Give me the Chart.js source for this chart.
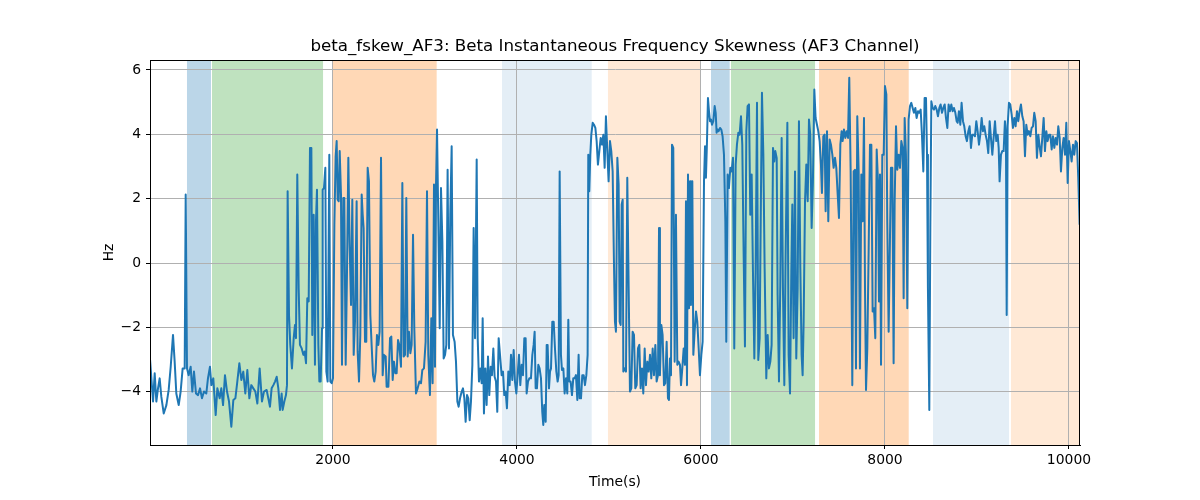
<!DOCTYPE html>
<html>
<head>
<meta charset="utf-8">
<title>beta_fskew_AF3</title>
<script src="https://cdn.jsdelivr.net/npm/chart.js@4.4.1/dist/chart.umd.min.js"></script>
<style>
  body { margin: 0; background: #fff; }
  #wrap { width: 1200px; height: 500px; }
</style>
</head>
<body>
<div id="wrap"><canvas id="chart" width="1200" height="500"></canvas></div>
<script>
/* series: time (s) and beta skewness (Hz) */
let times = [
  12, 44, 62, 80, 98, 116, 134, 160, 189, 214,
  236, 261, 279, 297, 323, 344, 366, 388, 399, 413,
  431, 453, 471, 489, 511, 533, 555, 576, 598, 623,
  641, 663, 678, 699, 725, 743, 768, 786, 805, 826,
  848, 870, 895, 917, 939, 960, 982, 1004, 1025, 1047,
  1069, 1091, 1112, 1134, 1156, 1178, 1203, 1228, 1250,
  1279, 1297, 1315, 1333, 1352, 1370, 1388, 1406, 1424, 1442,
  1453, 1471, 1489, 1500, 1507, 1522, 1536, 1554, 1573, 1587,
  1598, 1612, 1627, 1641, 1660, 1678, 1692, 1707, 1721, 1736,
  1750, 1765, 1775, 1790, 1804, 1815, 1826, 1841, 1852, 1866,
  1881, 1888, 1902, 1917, 1928, 1942, 1960, 1971, 1986, 2000,
  2015, 2029, 2040, 2051, 2062, 2073, 2087, 2098, 2112, 2123,
  2138, 2152, 2167, 2181, 2196, 2210, 2225, 2239, 2257, 2268,
  2283, 2297, 2312, 2323, 2333, 2348, 2362, 2377, 2391, 2406,
  2420, 2435, 2449, 2464, 2478, 2493, 2507, 2522,
  2540, 2554, 2573, 2583, 2602, 2620, 2634, 2649, 2663, 2678,
  2692, 2707, 2721, 2739, 2754, 2768, 2783, 2797, 2812, 2826,
  2841, 2855, 2870, 2884, 2902, 2920, 2939, 2957, 2971, 2989,
  3007, 3022, 3036, 3054, 3069, 3083, 3098, 3109, 3120, 3131,
  3145, 3160, 3174, 3189, 3203, 3218, 3232, 3246, 3261, 3275,
  3290, 3304, 3322, 3337, 3352, 3366, 3381, 3399, 3413, 3428,
  3442, 3457, 3471, 3486, 3500, 3515, 3529, 3544, 3562, 3573,
  3587, 3602, 3616, 3627, 3641, 3656, 3670, 3685, 3699, 3714,
  3728, 3743, 3757, 3772, 3786, 3801,
  3833, 3848, 3862, 3877, 3891, 3906, 3920, 3935, 3949, 3964,
  3978, 3993, 4007, 4022, 4036, 4051, 4065, 4080, 4094, 4105,
  4120, 4134, 4152, 4167, 4181, 4192, 4203, 4217, 4232, 4246,
  4261, 4275, 4286, 4297, 4312, 4323, 4333, 4348, 4359, 4370,
  4384, 4399, 4413, 4428, 4442, 4453, 4464, 4478, 4489, 4504,
  4518, 4533, 4547, 4558, 4569, 4583, 4598, 4612, 4627, 4641,
  4656, 4670, 4681, 4696, 4710, 4725, 4739, 4754, 4768, 4775,
  4786, 4797, 4808, 4823, 4837, 4852, 4866, 4880, 4895, 4910,
  4924, 4939, 4953, 4967, 4982, 4996, 5011, 5025, 5040,
  5054, 5065, 5076, 5091, 5105, 5116, 5127, 5138, 5149, 5156,
  5170, 5185, 5199, 5214, 5228, 5243, 5257, 5272, 5286, 5301,
  5315, 5330, 5344, 5359, 5373, 5388, 5402, 5417, 5431, 5446,
  5460, 5475, 5489, 5504, 5518, 5533, 5544, 5554, 5569, 5583,
  5598, 5612, 5627, 5641, 5652, 5663, 5674, 5685, 5699, 5714,
  5728, 5743, 5757, 5772, 5783, 5797, 5812, 5826, 5837, 5848,
  5859, 5870, 5881, 5891, 5906, 5917, 5931, 5946, 5960, 5975,
  5989, 6004, 6018, 6033, 6044, 6054, 6065, 6076, 6087, 6098,
  6109, 6120, 6134, 6149, 6160, 6170, 6181, 6192, 6207, 6221,
  6235, 6250, 6265, 6275,
  6290, 6304, 6319, 6333, 6348, 6362, 6377, 6391, 6406, 6420,
  6435, 6449, 6464, 6478, 6493, 6507, 6522, 6536, 6551, 6565,
  6580, 6594, 6609, 6623, 6638, 6652, 6663, 6678, 6692, 6710,
  6725, 6739, 6754, 6768, 6783, 6797, 6808, 6823, 6833, 6848,
  6862, 6877, 6891, 6906, 6920, 6939, 6953, 6968, 6982, 6993,
  7007, 7022, 7036, 7051, 7065, 7080, 7094, 7105, 7116, 7131,
  7145, 7160, 7174, 7188, 7203, 7217, 7232, 7246, 7261, 7275,
  7290, 7304, 7315, 7330, 7344, 7355, 7370, 7384, 7399, 7413,
  7428, 7442, 7457, 7471, 7486, 7500, 7515, 7529,
  7540, 7554, 7569, 7583, 7598, 7612, 7627, 7645, 7660, 7674,
  7685, 7699, 7714, 7728, 7743, 7757, 7772, 7783, 7794, 7808,
  7823, 7837, 7852, 7866, 7881, 7895, 7910, 7924, 7935, 7946,
  7957, 7971, 7986, 8000, 8015, 8025, 8040, 8054, 8065, 8080,
  8094, 8105, 8120, 8134, 8149, 8163, 8178, 8192, 8203, 8214,
  8228, 8243, 8257, 8272, 8286, 8301, 8315, 8330, 8344, 8359,
  8373, 8388, 8402, 8417, 8431, 8446, 8457, 8467, 8482, 8493,
  8504, 8518, 8533, 8547, 8562, 8576, 8591, 8605, 8620, 8634,
  8649, 8663, 8678, 8692, 8707, 8721, 8736, 8750, 8765, 8779,
  8790, 8804, 8819, 8833, 8848, 8862, 8877, 8891, 8906, 8920,
  8935, 8949, 8964, 8978, 8993, 9007, 9022, 9036, 9051, 9065,
  9080, 9094, 9109, 9123, 9138, 9152, 9167, 9181, 9196, 9210,
  9225, 9236, 9246, 9261, 9275, 9290, 9304, 9315, 9323, 9333,
  9348, 9362, 9377, 9391, 9406, 9420, 9435, 9449, 9464, 9478,
  9493, 9507, 9522, 9536, 9551, 9565, 9580, 9594, 9609, 9623,
  9638, 9652, 9667, 9681, 9696, 9710, 9725, 9739, 9754, 9768,
  9783, 9797, 9812, 9826, 9841, 9855, 9870, 9884, 9899, 9913,
  9928, 9942, 9957, 9971, 9986, 10000, 10015, 10029, 10044, 10058,
  10073, 10087, 10101, 10116
]

let skewness = [
  -3.01, -4.30, -3.42, -4.30, -3.89, -3.58, -4.15, -4.67, -4.41, -3.94,
  -3.22, -2.23, -3.06, -4.05, -4.41, -3.99, -3.27, -3.27, 2.13, -3.27,
  -3.48, -3.22, -3.99, -3.37, -4.05, -4.10, -3.89, -4.20, -3.99, -4.05,
  -3.58, -3.22, -3.79, -3.58, -4.72, -3.89, -4.20, -3.89, -4.41, -3.48,
  -3.99, -4.30, -5.08, -4.25, -4.20, -3.68, -3.11, -3.63, -3.37, -4.05,
  -3.32, -4.20, -3.79, -3.89, -3.99, -4.36, -3.27, -4.30, -3.99,
  -3.94, -4.20, -4.46, -3.89, -3.79, -3.68, -3.53, -3.89, -4.56, -4.05,
  -4.56, -4.30, -4.10, -3.79, 2.23, -1.61, -2.54, -3.27, -2.33, -1.92,
  -2.33, 2.75, -0.78, -2.54, -2.65, -2.85, -2.75, -3.11, -1.09, -1.19,
  3.58, 3.58, -2.23, 1.50, -3.16, 1.30, 2.28, -2.54, -3.68, -3.68,
  -2.02, 2.28, 2.33, 2.96, -3.37, -3.68, 3.37, -3.68, -3.73, -3.58,
  1.19, 3.32, 3.79, 1.97, 1.92, 3.48, 2.13, -3.16, 2.02, 2.02,
  -3.16, -0.36, 3.27, 0.57, -1.30, 1.97, -2.85, -1.82, 1.92, -2.75,
  -3.68, -2.23, 2.13, 1.50, 1.09, -2.44, -2.44, 2.96, 2.54, -1.61,
  -2.54, -3.48, -3.68, -3.37, -2.23, -2.54, -2.13, 3.27,
  -3.48, -2.85, -2.90, -3.84, -3.84, -2.33, -2.28, -3.63, -3.06, -3.42,
  -3.42, -2.39, -2.54, -3.22, 2.49, -2.90, -2.85, 2.02, -2.90, -2.13,
  -2.80, -2.54, 0.88, -2.02, -4.05, -3.89, -3.68, -3.73, -3.32, -3.27,
  -2.44, 2.23, -2.85, -4.10, -1.71, -3.73, 2.44, -3.22, 2.44, 4.15,
  1.30, -2.02, 2.33, 0.67, -2.96, -2.85, -2.54, 2.90, -2.65, 1.50,
  3.63, -2.23, -2.44, -3.06, -4.30, -4.46, -4.20, -3.99, -3.89, -4.20,
  -4.93, -4.10, -4.20, -4.88, -4.30, -3.16, 1.09, -2.33, 3.22, -2.33,
  -3.68, -3.27, -3.73, -1.71, -4.67, -3.27, -4.41, -2.90, -4.10, -3.22,
  -3.48, -2.65, -3.53, -3.68, -4.62, -2.33,
  -3.48, -3.37, -4.10, -3.99, -4.51, -3.37, -3.79, -2.85, -3.63, -2.70,
  -3.68, -4.05, -3.48, -2.85, -3.79, -3.16, -3.48, -2.33, -2.33, -4.05,
  -3.68, -3.58, -3.58, -2.85, -2.54, -2.13, -3.89, -3.89, -3.16, -3.27,
  -3.58, -4.62, -5.03, -4.41, -4.93, -2.54, -2.54, -3.89, -3.37, -3.27,
  -1.82, -1.82, -2.65, -3.37, -3.68, -3.48, 2.85, -2.85, -3.32, -3.27,
  -4.05, -3.58, -4.05, -1.76, -3.68, -3.68, -4.10, -3.58, -3.58, -3.48,
  -4.25, -2.85, -4.20, -4.20, -3.48, -3.48, -3.79, -3.48, -2.85, 3.37,
  2.23, 3.37, 3.99, 4.36, 4.30, 4.20, 3.79, 3.06, 3.48, 3.89,
  3.68, 3.99, 2.96, 4.56, 3.48, 2.54, 3.79, 3.48, 2.85,
  0.05, -1.82, -2.13, 3.27, 2.44, -1.82, -1.92, 1.82, 1.97, -3.37,
  -3.27, -3.37, 2.65, -0.78, -3.99, -3.89, -2.13, -2.23, -3.89, -3.79,
  -2.65, -2.54, -3.89, -3.27, -4.05, -2.65, -3.79, -3.06, -3.37, -2.85,
  -3.58, -2.65, -3.48, -2.54, -3.68, -3.48, 1.09, -3.48, -1.92, -2.23,
  -3.79, -3.73, -2.44, -4.20, -4.25, -2.96, -3.48, 3.68, 3.58, -3.06,
  1.50, -3.16, -3.06, -3.16, -3.79, -3.27, -2.65, -3.16, 1.92, -3.79,
  2.75, -1.40, 2.54, -1.30, 2.54, -2.85, -2.13, -1.50, -1.82, -2.65,
  -3.48, -2.85, -2.44, 2.54, 3.63, 2.65, 3.73, 5.13, 4.72, 4.41,
  4.46, 4.30, 4.41, 4.88, 4.67, 4.05, 4.15, 4.10, 4.20, 4.15,
  3.94, 3.37, 1.30, -2.44,
  2.75, 2.33, 2.96, 2.85, 3.27, -2.65, 3.06, 3.68, 4.05, 3.99,
  4.56, 3.68, 0.26, -2.59, 4.10, 4.88, 4.93, 1.50, 2.75, -0.26,
  -2.96, -0.26, 4.98, -3.01, -2.33, 2.13, 5.29, 3.37, -0.16, -3.58,
  -2.23, -3.27, -3.06, -2.54, 3.58, 3.16, 3.48, 3.27, -0.99, -3.68,
  -0.67, 3.89, -0.78, -3.79, 0.26, 4.36, -2.85, -4.05, -0.26, 1.82,
  -2.33, 2.85, -2.96, -0.78, 4.41, -0.16, -2.85, -3.48, -1.82, 1.92,
  3.06, 1.92, 4.46, 3.99, 1.09, 2.54, 5.39, 4.51, 4.30, 4.10,
  3.79, 3.06, 2.18, 3.94, 3.99, 1.61, 4.10, 1.30, 3.84, 3.68,
  3.37, 2.96, 3.27, 2.96, 2.13, 1.40, 3.68, 4.10,
  3.79, 4.15, 3.89, 4.10, 3.89, 5.76, 2.85, -3.79, 2.85, 2.90,
  -3.27, 4.56, 2.85, -3.27, 2.75, 1.30, 4.51, -0.78, -3.94, -2.65,
  0.47, 3.68, 3.68, -1.50, -1.40, -2.33, 3.53, 2.54, -1.19, 2.75,
  -3.16, 3.37, 3.37, 5.50, 5.24, 1.30, -2.13, 0.67, 2.96, 2.96,
  -3.11, 1.82, 4.25, 2.90, 3.37, 2.96, 3.79, 3.58, -1.09, 4.51,
  3.37, -1.40, 4.46, 4.88, 4.98, 4.82, 4.67, 4.82, 4.51, 4.72,
  4.67, 4.77, 3.99, 2.85, 5.13, 5.13, 3.37, -0.78, -4.56, 1.09,
  5.03, 4.82, 4.77, 4.88, 4.77, 4.56, 4.82, 4.93, 4.67, 4.82,
  4.93, 4.51, 4.20, 4.93, 4.72, 4.93, 4.72, 4.82, 4.67, 4.41,
  4.36, 4.72, 4.30, 4.98, 4.41, 4.25, 3.94, 3.79, 4.10, 4.25,
  3.58, 3.99, 3.99, 3.94, 4.41, 4.10, 3.68, 3.99, 4.51, 4.10,
  4.25, 3.99, 3.79, 3.42, 4.41, 3.89, 3.37, 3.89, 4.41, 3.79,
  3.99, 3.58, 2.54, 3.37, 3.48, 3.48, 4.41, 3.99, -1.61, 4.25,
  4.98, 4.93, 4.62, 4.20, 4.51, 4.25, 4.72, 4.41, 4.72, 4.93,
  4.56, 4.41, 3.32, 4.30, 3.99, 4.10, 3.94, 4.20, 4.25, 4.67,
  4.41, 3.27, 3.99, 3.63, 3.32, 3.89, 4.51, 3.48, 4.10, 3.79,
  3.99, 3.99, 3.53, 3.94, 3.58, 3.89, 3.68, 4.25, 3.89, 2.85,
  3.58, 3.89, 3.37, 4.36, 2.49, 3.79, 3.48, 3.16, 3.68, 3.37,
  3.79, 3.73, 2.65, 1.19
]

/* shaded intervals (seconds) */
let bandStart = [413, 685, 2000, 3837, 4989, 6109, 6326, 7283, 8522, 9370]
let bandEnd   = [674, 1892, 3127, 4812, 6000, 6312, 7240, 8258, 9348, 10120]
let bandColors = [
  'rgba(31,119,180,0.3)', 'rgba(44,160,44,0.3)', 'rgba(255,127,14,0.3)',
  'rgba(31,119,180,0.12)', 'rgba(255,127,14,0.17)',
  'rgba(31,119,180,0.3)', 'rgba(44,160,44,0.3)', 'rgba(255,127,14,0.3)',
  'rgba(31,119,180,0.12)', 'rgba(255,127,14,0.17)'
]

let xTicks = [2000, 4000, 6000, 8000, 10000]
let yTicks = [-4, -2, 0, 2, 4, 6]

let points = times.map((t, i) => ({ x: t, y: skewness[i] }))

Chart.defaults.font.family = 'DejaVu Sans'
Chart.defaults.font.size = 13.9
Chart.defaults.color = '#000'

// bands go under the grid, frame and labels on top
let decorPlugin = {
  id: 'decor',
  beforeDraw(chart) {
    let ctx = chart.ctx
    let a = chart.chartArea
    let x = chart.scales.x
    ctx.save()
    for (let i = 0; i < bandStart.length; i++) {
      let x0 = x.getPixelForValue(bandStart[i])
      let x1 = Math.min(x.getPixelForValue(bandEnd[i]), a.right)
      ctx.fillStyle = bandColors[i]
      ctx.fillRect(x0, a.top, x1 - x0, a.bottom - a.top)
    }
    ctx.restore()
  },
  afterDraw(chart) {
    let ctx = chart.ctx
    let a = chart.chartArea
    ctx.save()
    ctx.strokeStyle = '#000'
    ctx.lineWidth = 1
    ctx.strokeRect(Math.round(a.left) + 0.5, Math.round(a.top) + 0.5,
      Math.round(a.right - a.left) - 1, Math.round(a.bottom - a.top))

    ctx.fillStyle = '#000'
    ctx.textAlign = 'center'
    ctx.textBaseline = 'alphabetic'
    ctx.font = '16.7px "DejaVu Sans"'
    ctx.fillText('beta_fskew_AF3: Beta Instantaneous Frequency Skewness (AF3 Channel)', (a.left + a.right) / 2, 51)

    ctx.font = '13.9px "DejaVu Sans"'
    ctx.fillText('Time(s)', (a.left + a.right) / 2, 486)

    ctx.translate(113, (a.top + a.bottom) / 2)
    ctx.rotate(-Math.PI / 2)
    ctx.fillText('Hz', 0, 0)
    ctx.restore()
  }
}

let chartCanvas = document.querySelector('#chart')
let ctx = chartCanvas.getContext('2d')

let skewChart = new Chart(ctx, {
  type: 'line',
  data: {
    datasets: [{
      data: points,
      borderColor: '#1f77b4',
      borderWidth: 2,
      pointRadius: 0,
      tension: 0,
      fill: false,
      borderJoinStyle: 'round'
    }]
  },
  options: {
    responsive: false,
    animation: false,
    devicePixelRatio: 1,
    layout: { padding: { top: 60, right: 120, bottom: 0, left: 0 } },
    plugins: { legend: { display: false }, title: { display: false }, tooltip: { enabled: false } },
    scales: {
      x: {
        type: 'linear',
        min: 11,
        max: 10120,
        afterBuildTicks: scale => { scale.ticks = xTicks.map(v => ({ value: v })) },
        afterFit: scale => { scale.height = 55 },
        ticks: { padding: 3, maxRotation: 0, callback: v => String(v) },
        grid: { color: '#b0b0b0', lineWidth: 1, tickColor: '#000', tickLength: 4 },
        border: { color: '#000', width: 1 }
      },
      y: {
        type: 'linear',
        min: -5.65,
        max: 6.31,
        afterBuildTicks: scale => { scale.ticks = yTicks.map(v => ({ value: v })) },
        afterFit: scale => { scale.width = 150 },
        ticks: { padding: 5, callback: v => v < 0 ? '\u2212' + Math.abs(v) : String(v) },
        grid: { color: '#b0b0b0', lineWidth: 1, tickColor: '#000', tickLength: 4 },
        border: { color: '#000', width: 1 }
      }
    }
  },
  plugins: [decorPlugin]
})
</script>
</body>
</html>
